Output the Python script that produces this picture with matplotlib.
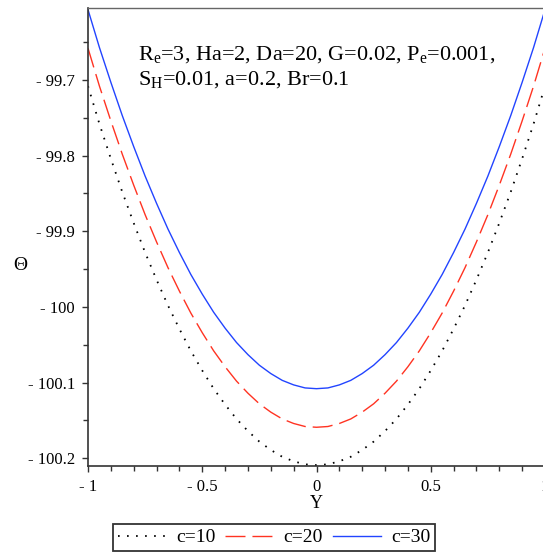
import matplotlib
matplotlib.use("Agg")
import matplotlib.pyplot as plt
from matplotlib.ticker import MultipleLocator, FuncFormatter

# Data
Y = [-1.0, -0.95, -0.9, -0.85, -0.8, -0.75, -0.7, -0.65, -0.6, -0.55, -0.5,
     -0.45, -0.4, -0.35, -0.3, -0.25, -0.2, -0.15, -0.1, -0.05, 0.0,
     0.05, 0.1, 0.15, 0.2, 0.25, 0.3, 0.35, 0.4, 0.45, 0.5,
     0.55, 0.6, 0.65, 0.7, 0.75, 0.8, 0.85, 0.9, 0.95, 1.0]
theta_c30 = [-99.607, -99.657, -99.703, -99.747, -99.788, -99.827, -99.863, -99.897, -99.928, -99.957, -99.983,
             -100.007, -100.028, -100.047, -100.063, -100.077, -100.088, -100.097, -100.103, -100.107, -100.108,
             -100.107, -100.103, -100.097, -100.088, -100.077, -100.063, -100.047, -100.028, -100.007, -99.983,
             -99.957, -99.928, -99.897, -99.863, -99.827, -99.788, -99.747, -99.703, -99.657, -99.607]
theta_c20 = [-99.658, -99.708, -99.754, -99.798, -99.839, -99.878, -99.914, -99.948, -99.979, -100.008, -100.034,
             -100.058, -100.079, -100.098, -100.114, -100.128, -100.139, -100.148, -100.154, -100.158, -100.159,
             -100.158, -100.154, -100.148, -100.139, -100.128, -100.114, -100.098, -100.079, -100.058, -100.034,
             -100.008, -99.979, -99.948, -99.914, -99.878, -99.839, -99.798, -99.754, -99.708, -99.658]
theta_c10 = [-99.708, -99.758, -99.804, -99.848, -99.889, -99.928, -99.964, -99.998, -100.029, -100.058, -100.084,
             -100.108, -100.129, -100.148, -100.164, -100.178, -100.189, -100.198, -100.204, -100.208, -100.209,
             -100.208, -100.204, -100.198, -100.189, -100.178, -100.164, -100.148, -100.129, -100.108, -100.084,
             -100.058, -100.029, -99.998, -99.964, -99.928, -99.889, -99.848, -99.804, -99.758, -99.708]
labels = ["c=10", "c=20", "c=30"]

plt.rcParams['font.family'] = ['Liberation Serif', 'DejaVu Serif']
plt.rcParams['mathtext.fontset'] = 'custom'
plt.rcParams['mathtext.rm'] = 'Liberation Serif'
plt.rcParams['mathtext.it'] = 'Liberation Serif:italic'
plt.rcParams['lines.scale_dashes'] = False

fig = plt.figure(figsize=(5.43, 5.54), dpi=100)
ax = fig.add_axes([88/543, (554-466)/554, (545-88)/543, (466-8)/554])

l1, = ax.plot(Y, theta_c10, color='black', lw=1.3, linestyle=(0, (1.2, 5.3)))
l2, = ax.plot(Y, theta_c20, color='#ff3322', lw=1.0, linestyle=(0, (14.4, 5.0)))
l3, = ax.plot(Y, theta_c30, color='#2244ff', lw=1.0)

ax.set_xlim(-1, 1)
ax.set_ylim(-100.2102, -99.6048)

ax.xaxis.set_major_locator(MultipleLocator(0.5))
ax.xaxis.set_minor_locator(MultipleLocator(0.1))
ax.yaxis.set_major_locator(MultipleLocator(0.1))
ax.yaxis.set_minor_locator(MultipleLocator(0.05))

def fmt(v, pos):
    s = ('%.1f' % v).rstrip('0').rstrip('.')
    if s in ('-0', '0'):
        return '0'
    if s.startswith('-'):
        return '- ' + s[1:]
    return s

ax.xaxis.set_major_formatter(FuncFormatter(fmt))
ax.yaxis.set_major_formatter(FuncFormatter(fmt))

for sp in ['left', 'bottom']:
    ax.spines[sp].set_color('#333333')
    ax.spines[sp].set_linewidth(1.2)
ax.spines['top'].set_color('#666666')
ax.spines['top'].set_linewidth(1.0)
ax.spines['right'].set_visible(False)

ax.tick_params(which='both', direction='out', color='#333333', width=1.0,
               labelsize=12, top=False, right=False)
ax.tick_params(which='major', length=4.5)
ax.tick_params(which='minor', length=3.5)
ax.tick_params(axis='y', pad=5)
ax.tick_params(axis='x', pad=5)

ax.set_xlabel('Y', fontsize=13, labelpad=0)
fig.text(20/543, 1 - 265/554, 'Θ', fontsize=14, ha='center', va='center')

fig.text(138/543, 1 - 44/554,
         r'R$_{\rm e}$=3, Ha=2, Da=20, G=0.02, P$_{\rm e}$=0.001,' + '\n' + r'S$_{\rm H}$=0.01, a=0.2, Br=0.1',
         fontsize=16, ha='left', va='top', linespacing=1.3)

leg = fig.legend([l1, l2, l3], labels, loc='center', bbox_to_anchor=(274/543, 1 - 537.5/554),
                 ncol=3, fontsize=14, frameon=True, fancybox=False, edgecolor='black',
                 handlelength=2.5, handletextpad=0.5, columnspacing=0.5,
                 borderpad=0.25, borderaxespad=0)
leg.get_frame().set_linewidth(1.3)

fig.savefig('out.png', dpi=100)
